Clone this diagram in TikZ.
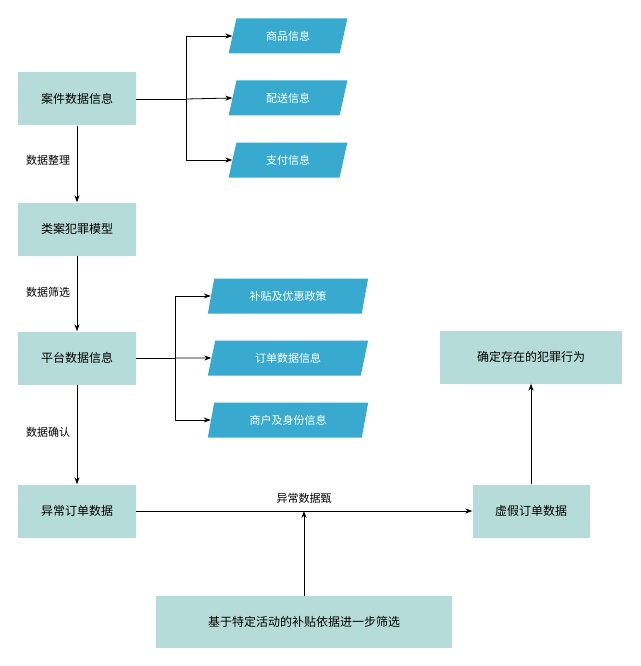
\documentclass[tikz,border=0pt]{standalone}
\usepackage{fontspec}
\setmainfont{Noto Sans CJK SC}
\usetikzlibrary{shapes.geometric,arrows.meta}
\definecolor{boxc}{HTML}{B5DCD8}
\definecolor{parc}{HTML}{39AACF}
\begin{document}
\begin{tikzpicture}[x=1pt,y=-1pt,
  box/.style={fill=boxc,minimum height=53pt,inner sep=0pt,font=\fontsize{12}{14}\selectfont},
  par/.style={trapezium,trapezium left angle=72,trapezium right angle=108,fill=parc,text=white,minimum height=35pt,minimum width=104pt,inner sep=0pt,font=\fontsize{11}{13}\selectfont,trapezium stretches=true},
  lab/.style={font=\fontsize{11}{13}\selectfont,fill=white,inner sep=1pt},
  arr/.style={-{Stealth[length=7pt,width=5pt]},line width=0.8pt}]
\useasboundingbox (0,0) rectangle (640,666);
\node[box,minimum width=118pt] (a) at (77,99) {案件数据信息};
\node[box,minimum width=118pt] (b) at (77,229) {类案犯罪模型};
\node[box,minimum width=118pt] (c) at (77,358) {平台数据信息};
\node[box,minimum width=118pt] (d) at (77,511) {异常订单数据};
\node[box,minimum width=117pt] (e) at (531,511) {虚假订单数据};
\node[box,minimum width=182pt] (f) at (531,357) {确定存在的犯罪行为};
\node[box,minimum width=296pt,minimum height=52pt] (g) at (304,622) {基于特定活动的补贴依据进一步筛选};
\node[par,minimum width=119pt] (p1) at (288,36) {商品信息};
\node[par,minimum width=119pt] (p2) at (288,98) {配送信息};
\node[par,minimum width=119pt] (p3) at (288,160) {支付信息};
\node[par,minimum width=161pt] (q1) at (288,296) {补贴及优惠政策};
\node[par,minimum width=161pt] (q2) at (288,358) {订单数据信息};
\node[par,minimum width=161pt] (q3) at (288,420) {商户及身份信息};
\coordinate (j1) at (186,99);
\coordinate (j2) at (175,358);
\draw[line width=0.8pt] (a.east) -- (j1);
\draw[arr] (j1) |- (p1.west);
\draw[arr] (j1) -- (p2.west);
\draw[arr] (j1) |- (p3.west);
\draw[line width=0.8pt] (c.east) -- (j2);
\draw[arr] (j2) |- (q1.west);
\draw[arr] (j2) -- (q2.west);
\draw[arr] (j2) |- (q3.west);
\draw[arr] (a) -- (b);
\draw[arr] (b) -- (c);
\draw[arr] (c) -- (d);
\node[lab] at (48,160) {数据整理};
\node[lab] at (48,292) {数据筛选};
\node[lab] at (48,432) {数据确认};
\draw[arr] (d) -- (e);
\node[font=\fontsize{11}{13}\selectfont] at (304,498) {异常数据甄};
\coordinate (m) at (304,511);
\draw[arr] (g) -- (m);
\draw[arr] (e) -- (f);
\end{tikzpicture}
\end{document}
